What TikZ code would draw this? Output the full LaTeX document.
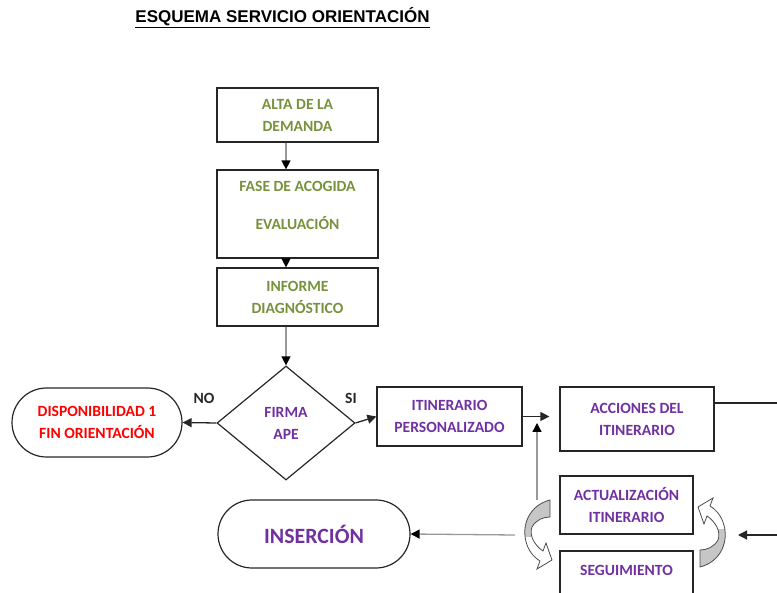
\documentclass[tikz,border=0pt]{standalone}
\usepackage{fontspec}
\setmainfont{Carlito}
\newfontfamily\titlefont{Liberation Sans}
\usetikzlibrary{
    shapes.geometric, shapes.misc,
    arrows.meta
}
\definecolor{olivetxt}{RGB}{118,146,60}
\definecolor{purpletxt}{RGB}{112,48,160}
\definecolor{redtxt}{RGB}{255,0,0}
\newcommand{\crvband}[1]{
    \path[#1] (12,-35) .. controls (-8,-30) and (-18,-10) .. (-11,10)
        .. controls (-8,18) and (-3,23) .. (2,26) -- (-1,34) -- (14,25) -- (8,8) -- (5,16)
        .. controls (-4,10) and (-9,0) .. (-6,-8)
        .. controls (-2,-15) and (5,-18) .. (12,-18) -- cycle;
}
\tikzset{
    box/.style={draw=black!85, line width=1.2pt, inner sep=0pt, align=center,
        font=\bfseries\fontsize{15.6}{22}\selectfont},
    flow/.style={draw=gray!80, line width=1.3pt, -{Triangle[color=black, length=9pt, width=9pt]}},
    link/.style={draw=black!85, line width=1.3pt, -{Triangle[length=9pt, width=9pt]}},
    turn arrow/.pic={
        \begin{scope}
            \clip (-30,-40) rectangle (30,2);
            \crvband{fill=gray!45}
        \end{scope}
        \crvband{draw=black!70, line width=0.8pt}
    }
}

\begin{document}
\begin{tikzpicture}[x=1pt, y=-1pt]
        \useasboundingbox (0,0) rectangle (777,593);
        \clip (0,0) rectangle (777,593);
        \node[font=\titlefont\bfseries\fontsize{17}{20}\selectfont] (title) at (282.5,18) {\underline{ESQUEMA SERVICIO ORIENTACIÓN}};
        \node[box, text=olivetxt, minimum width=161pt, minimum height=54pt] (alta) at (297.5,115) {ALTA DE LA\\DEMANDA};
        \node[box, text=olivetxt, minimum width=161pt, minimum height=88pt] (fase) at (297.5,214) {FASE DE ACOGIDA\\[16pt]EVALUACIÓN\\[-4pt]\mbox{}};
        \node[box, text=olivetxt, minimum width=161pt, minimum height=58pt] (informe) at (297.5,297) {INFORME\\DIAGNÓSTICO};
        \node[box, diamond, text=purpletxt, minimum width=138pt, minimum height=114pt] (firma) at (286,423) {FIRMA\\APE};
        \node[box, rounded rectangle, text=redtxt, minimum width=170pt, minimum height=69pt] (disp) at (97,422.5) {DISPONIBILIDAD 1\\FIN ORIENTACIÓN};
        \node[box, text=purpletxt, minimum width=145pt, minimum height=59pt] (itin) at (449.5,416.5) {ITINERARIO\\PERSONALIZADO};
        \node[box, text=purpletxt, minimum width=154pt, minimum height=64pt] (acc) at (637,419) {ACCIONES DEL\\ITINERARIO};
        \node[box, text=purpletxt, minimum width=133pt, minimum height=58pt] (actu) at (626.5,505) {ACTUALIZACIÓN\\ITINERARIO};
        \node[box, text=purpletxt, minimum width=133pt, minimum height=60pt] (segu) at (626.5,581) {SEGUIMIENTO\\\mbox{}};
        \node[box, rounded rectangle, text=purpletxt, font=\bfseries\fontsize{21.8}{25}\selectfont, minimum width=192pt, minimum height=68pt] (ins) at (314,534) {INSERCIÓN};
        \node[font=\bfseries\fontsize{15.6}{18}\selectfont, text=black!85] (no) at (204,398) {NO};
        \node[font=\bfseries\fontsize{15.6}{18}\selectfont, text=black!85] (si) at (351,398) {SI};
        \coordinate (col) at (286,0);
        \coordinate (edgeR) at (777,403);
        \coordinate (backR) at (777,535);
        \coordinate (loopR) at (738,535);
        \coordinate (loopL) at (515,535);
        \coordinate (upfoot) at (537,500);
        \coordinate (uptip) at (537,423);
        \draw[flow] (alta.south -| col) -- (fase.north -| col);
        \draw[flow] (fase.south -| col) -- (informe.north -| col);
        \draw[flow] (informe.south -| col) -- (firma.north);
        \draw[link] (firma.west) -- (disp.east);
        \draw[link] (firma.east) -- (itin.west);
        \draw[link, shorten >=10pt] (itin.east) -- (itin.east -| acc.west);
        \draw[draw=black!85, line width=1.3pt] (acc.east |- edgeR) -- (edgeR);
        \draw[link] (backR) -- (loopR);
        \draw[flow] (loopL) -- (ins.east);
        \draw[flow] (upfoot) -- (uptip);
        \pic at (538,535) {turn arrow};
        \pic[rotate=180] at (712,532) {turn arrow};
    \end{tikzpicture}
\end{document}
